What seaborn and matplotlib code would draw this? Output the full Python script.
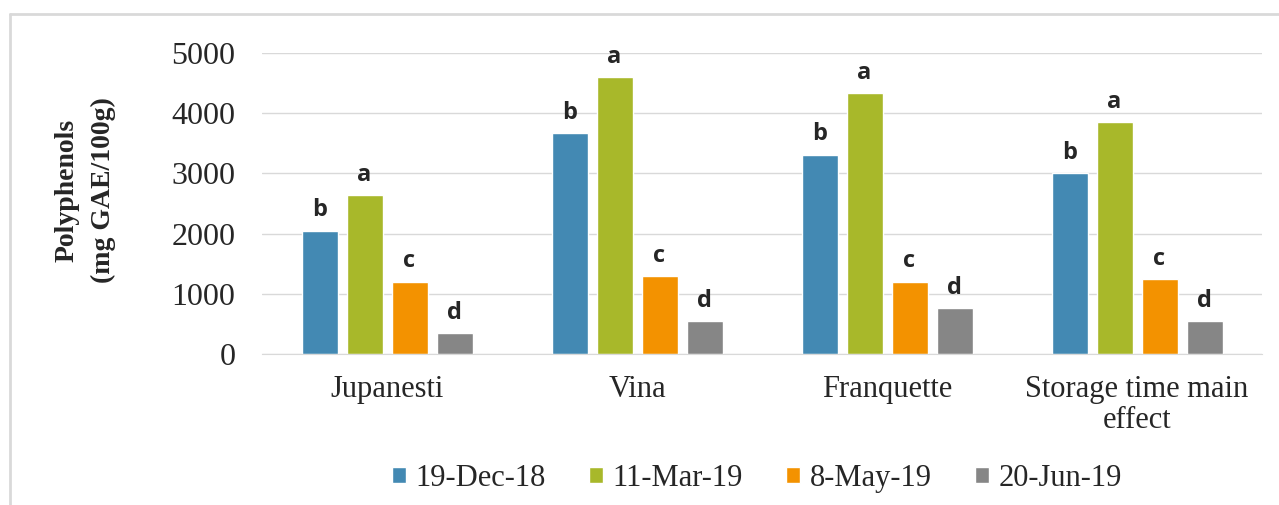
import pandas as pd
import matplotlib
matplotlib.use("Agg")
import matplotlib.pyplot as plt
import seaborn as sns

# data
cultivars = ["Jupanesti", "Vina", "Franquette", "Storage time main\neffect"]
dates = ["19-Dec-18", "11-Mar-19", "8-May-19", "20-Jun-19"]
dec18 = [2050, 3665, 3310, 3000]
mar19 = [2640, 4595, 4330, 3850]
may19 = [1200, 1290, 1200, 1245]
jun19 = [350, 545, 760, 545]
letters = ["b", "a", "c", "d"]
colors = ["#4389B3", "#A8B82A", "#F39200", "#868686"]

rows = []
for d, vals in zip(dates, [dec18, mar19, may19, jun19]):
    for c, v in zip(cultivars, vals):
        rows.append({"Cultivar": c, "Date": d, "Polyphenols": v})
df = pd.DataFrame(rows)

sns.set_style("white")
plt.rcParams["font.family"] = ["Liberation Serif", "DejaVu Serif"]

fig = plt.figure(figsize=(12.79, 5.05), dpi=100)
ax = fig.add_axes([262 / 1279, 151 / 505, 1000 / 1279, 301 / 505])

sns.barplot(data=df, x="Cultivar", y="Polyphenols", hue="Date",
            order=cultivars, hue_order=dates, palette=colors,
            width=0.72, gap=0.2, saturation=1, ax=ax, legend=True)

# significance letters
for cont, let in zip(ax.containers, letters):
    ax.bar_label(cont, labels=[let] * len(cont), padding=6,
                 fontsize=17, fontweight="bold", family="Open Sans")

ax.set_ylim(0, 5000)
ax.set_yticks([0, 1000, 2000, 3000, 4000, 5000])
ax.yaxis.grid(True, color="#D9D9D9", linewidth=1)
ax.set_axisbelow(True)
for s in ["top", "right", "left"]:
    ax.spines[s].set_visible(False)
ax.spines["bottom"].set_color("#D9D9D9")
ax.tick_params(axis="x", length=0, labelsize=22, pad=15)
ax.tick_params(axis="y", length=0, labelsize=23, pad=19)
for lab in ax.get_xticklabels():
    lab.set_linespacing(1.1)
ax.set_xlabel("")
ax.set_ylabel("Polyphenols\n(mg GAE/100g)", fontsize=20, fontweight="bold",
              linespacing=1.6)
ax.yaxis.set_label_coords(-0.146, 0.545)

ax.legend(loc="center", bbox_to_anchor=(0.495, -0.413), ncol=4,
          frameon=False, fontsize=22, handlelength=0.46, handleheight=0.46,
          handletextpad=0.3, columnspacing=1.42)

# outer chart frame
fig.add_artist(plt.Line2D([10 / 1279, 10 / 1279], [0, 1 - 14 / 505],
                          color="#D9D9D9", linewidth=2))
fig.add_artist(plt.Line2D([10 / 1279, 1], [1 - 14 / 505, 1 - 14 / 505],
                          color="#D9D9D9", linewidth=2))

fig.savefig("out.png", dpi=100)
